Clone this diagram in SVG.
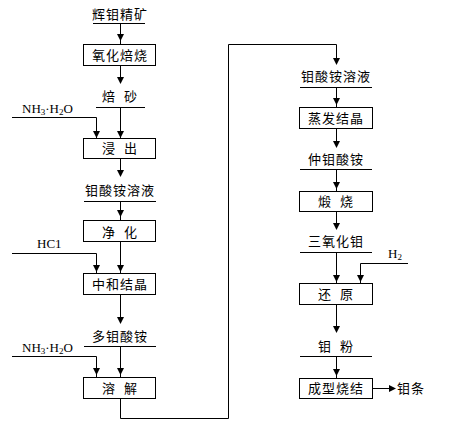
<svg xmlns="http://www.w3.org/2000/svg" xmlns:xlink="http://www.w3.org/1999/xlink" width="471" height="429" viewBox="0 0 471 429">
<style>
.ln{fill:none;stroke:#000;stroke-width:1}
.bx{fill:#fff;stroke:#000;stroke-width:1}
.t{font-family:"Noto Sans CJK SC","Noto Sans",sans-serif;font-size:13px;fill:#000;text-anchor:middle;letter-spacing:1px;word-spacing:4px}
.tl{font-family:"Noto Sans CJK SC","Noto Sans",sans-serif;font-size:13px;fill:#000;letter-spacing:1px}
.c{font-family:"Liberation Serif",serif;font-size:13px;fill:#000}
.s{font-size:9px}
</style>
<defs>
<path id="ah" d="M-3.5,-6 L3.5,-6 L0,1 Z" fill="#000"/>
<path id="ar" d="M-6,-3.5 L-6,3.5 L1,0 Z" fill="#000"/>
</defs>
<rect width="471" height="429" fill="#fff"/>
<g id="connectors">
<path class="ln" d="M120.5,23 V44 M120.5,65 V83 M120.5,107 V138 M12,117.5 H96.5 V138 M120.5,158 V176 M120.5,201 V220 M120.5,241 V273 M12,253.5 H96.5 V273 M120.5,294 V323 M120.5,346 V377 M12,356.5 H96.5 V377 M120.5,398 V418.5 H228.5 V44.5 H336.5 V64 M336.5,87 V107 M336.5,128 V147 M336.5,169 V191 M336.5,211 V229 M336.5,252 V283 M408,263.5 H360.5 V283 M336.5,304 V332 M336.5,356 V378 M372,388.5 H395"/>
<path class="ln" d="M93,23.5 H145 M96,107.5 H145 M84,201.5 H156 M84,346.5 H156 M300,87.5 H372 M300,169.5 H372 M300,252.5 H372 M300,356.5 H372"/>
<use xlink:href="#ah" x="120.5" y="40"/>
<use xlink:href="#ah" x="120.5" y="83"/>
<use xlink:href="#ah" x="120.5" y="137"/>
<use xlink:href="#ah" x="96.5" y="137"/>
<use xlink:href="#ah" x="120.5" y="176"/>
<use xlink:href="#ah" x="120.5" y="216"/>
<use xlink:href="#ah" x="120.5" y="271"/>
<use xlink:href="#ah" x="96.5" y="271"/>
<use xlink:href="#ah" x="120.5" y="323"/>
<use xlink:href="#ah" x="120.5" y="374"/>
<use xlink:href="#ah" x="96.5" y="374"/>
<use xlink:href="#ah" x="336.5" y="64"/>
<use xlink:href="#ah" x="336.5" y="104"/>
<use xlink:href="#ah" x="336.5" y="147"/>
<use xlink:href="#ah" x="336.5" y="188"/>
<use xlink:href="#ah" x="336.5" y="229"/>
<use xlink:href="#ah" x="336.5" y="281"/>
<use xlink:href="#ah" x="360.5" y="281"/>
<use xlink:href="#ah" x="336.5" y="332"/>
<use xlink:href="#ah" x="336.5" y="375"/>
<use xlink:href="#ar" x="395" y="388.5"/>
</g>
<g id="n-huimu"><text class="t" x="120" y="19">辉钼精矿</text></g>
<g id="n-yanghua"><rect class="bx" x="83.5" y="44.5" width="72" height="21"/><text class="t" x="120" y="60">氧化焙烧</text></g>
<g id="n-beisha"><text class="t" x="120" y="101">焙 砂</text></g>
<g id="n-nh3a"><text class="c" x="22" y="113">NH<tspan class="s" dy="2">3</tspan><tspan dy="-2">·H</tspan><tspan class="s" dy="2">2</tspan><tspan dy="-2">O</tspan></text></g>
<g id="n-jinchu"><rect class="bx" x="83.5" y="138.5" width="72" height="20"/><text class="t" x="120" y="153">浸 出</text></g>
<g id="n-rongye1"><text class="t" x="120" y="195">钼酸铵溶液</text></g>
<g id="n-jinghua"><rect class="bx" x="83.5" y="220.5" width="72" height="21"/><text class="t" x="120" y="237">净 化</text></g>
<g id="n-hcl"><text class="c" x="37" y="248">HC1</text></g>
<g id="n-zhonghe"><rect class="bx" x="83.5" y="273.5" width="72" height="21"/><text class="t" x="120" y="289">中和结晶</text></g>
<g id="n-duomu"><text class="t" x="120" y="341">多钼酸铵</text></g>
<g id="n-nh3b"><text class="c" x="22" y="352">NH<tspan class="s" dy="2">3</tspan><tspan dy="-2">·H</tspan><tspan class="s" dy="2">2</tspan><tspan dy="-2">O</tspan></text></g>
<g id="n-rongjie"><rect class="bx" x="83.5" y="377.5" width="72" height="21"/><text class="t" x="120" y="393">溶 解</text></g>
<g id="n-rongye2"><text class="t" x="336" y="81">钼酸铵溶液</text></g>
<g id="n-zhengfa"><rect class="bx" x="299.5" y="107.5" width="73" height="21"/><text class="t" x="336" y="123">蒸发结晶</text></g>
<g id="n-zhongmu"><text class="t" x="336" y="164">仲钼酸铵</text></g>
<g id="n-duanshao"><rect class="bx" x="299.5" y="191.5" width="73" height="20"/><text class="t" x="336" y="206">煅 烧</text></g>
<g id="n-sanyang"><text class="t" x="336" y="246">三氧化钼</text></g>
<g id="n-h2"><text class="c" x="388" y="258">H<tspan class="s" dy="2">2</tspan></text></g>
<g id="n-huanyuan"><rect class="bx" x="299.5" y="283.5" width="73" height="21"/><text class="t" x="336" y="299">还 原</text></g>
<g id="n-mufen"><text class="t" x="336" y="351">钼 粉</text></g>
<g id="n-chengxing"><rect class="bx" x="299.5" y="378.5" width="73" height="20"/><text class="t" x="336" y="393">成型烧结</text></g>
<g id="n-mutiao"><text class="tl" x="397" y="393">钼条</text></g>
</svg>
